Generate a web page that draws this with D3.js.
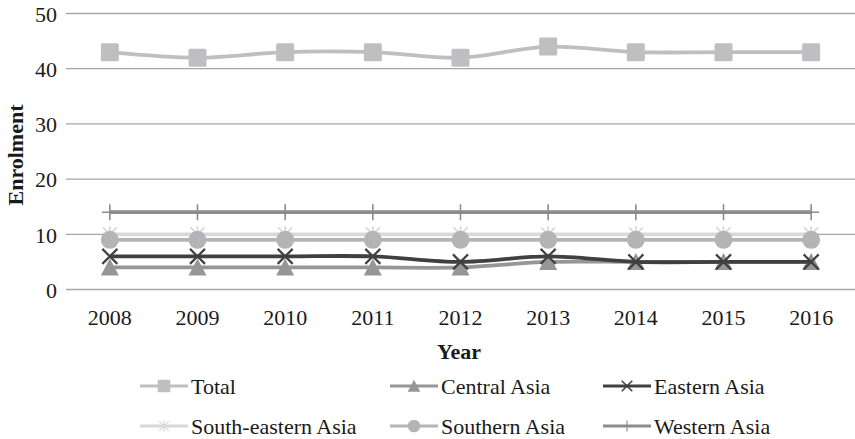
<!DOCTYPE html>
<html>
<head>
<meta charset="utf-8">
<script src="https://cdn.jsdelivr.net/npm/d3@7"></script>
<style>
  html, body { margin: 0; padding: 0; background: #fff; }
  svg { display: block; }
  svg text { font-family: "Liberation Serif", "Times New Roman", serif; fill: #1a1a1a; }
</style>
</head>
<body>
<svg id="chart" width="855" height="439"></svg>
<script>
// Enrolment by region, 2008–2016
const years = ["2008", "2009", "2010", "2011", "2012", "2013", "2014", "2015", "2016"];
const total          = [43, 42, 43, 43, 42, 44, 43, 43, 43];
const centralAsia    = [4, 4, 4, 4, 4, 5, 5, 5, 5];
const easternAsia    = [6, 6, 6, 6, 5, 6, 5, 5, 5];
const southEastAsia  = [10, 10, 10, 10, 10, 10, 10, 10, 10];
const southernAsia   = [9, 9, 9, 9, 9, 9, 9, 9, 9];
const westernAsia    = [14, 14, 14, 14, 14, 14, 14, 14, 14];
const yTicks = [0, 10, 20, 30, 40, 50];

const series = [
  { name: "Total",              values: total,         color: "#bfbfc2", marker: "square"   },
  { name: "Central Asia",       values: centralAsia,   color: "#969696", marker: "triangle" },
  { name: "Eastern Asia",       values: easternAsia,   color: "#404040", marker: "x"        },
  { name: "South-eastern Asia", values: southEastAsia, color: "#d9d9d9", marker: "star"     },
  { name: "Southern Asia",      values: southernAsia,  color: "#b4b4b8", marker: "circle"   },
  { name: "Western Asia",       values: westernAsia,   color: "#8c8c8c", marker: "plus"     }
];

const svg = d3.select("#chart");
const plot = { left: 66, right: 855, top: 13.5, bottom: 289.5 };
const FONT = 22;

const x = d3.scaleBand().domain(years).range([plot.left, plot.right]);
const y = d3.scaleLinear().domain([0, 50]).range([plot.bottom, plot.top]);
const cx = d => x(d) + x.bandwidth() / 2;

// horizontal gridlines
svg.append("g")
  .selectAll("line")
  .data(yTicks)
  .join("line")
  .attr("x1", plot.left).attr("x2", plot.right)
  .attr("y1", d => y(d)).attr("y2", d => y(d))
  .attr("stroke", "#a6a6a6").attr("stroke-width", 1.3);

// y axis labels
const yAxis = d3.axisLeft(y).tickValues(yTicks).tickSize(0).tickPadding(0);
const gy = svg.append("g").attr("transform", "translate(57,0)").call(yAxis);
gy.select(".domain").remove();
gy.selectAll("text")
  .attr("font-size", FONT)
  .attr("font-family", "Liberation Serif")
  .attr("dy", "0.35em");

// x axis labels
const xAxis = d3.axisBottom(x).tickSize(0).tickPadding(0);
const gx = svg.append("g").attr("transform", `translate(0,${plot.bottom})`).call(xAxis);
gx.select(".domain").remove();
gx.selectAll("text")
  .attr("font-size", FONT)
  .attr("font-family", "Liberation Serif")
  .attr("y", 35).attr("dy", 0);

// axis titles
svg.append("text")
  .attr("x", 459).attr("y", 359)
  .attr("text-anchor", "middle")
  .attr("font-family", "Liberation Serif")
  .attr("font-size", FONT).attr("font-weight", "bold")
  .text("Year");
svg.append("text")
  .attr("transform", "translate(23,155) rotate(-90)")
  .attr("text-anchor", "middle")
  .attr("font-family", "Liberation Serif")
  .attr("font-size", FONT).attr("font-weight", "bold")
  .text("Enrolment");

// marker drawing, k scales the symbol size
function drawMarker(g, type, color, px, py, k) {
  const s = 9 * k;
  switch (type) {
    case "square":
      g.append("rect").attr("x", px - s).attr("y", py - s).attr("width", 2 * s).attr("height", 2 * s)
        .attr("rx", 1.5 * k).attr("fill", color);
      break;
    case "triangle":
      g.append("path").attr("d", `M${px},${py - s} L${px + s},${py + s * 0.9} L${px - s},${py + s * 0.9} Z`)
        .attr("fill", color);
      break;
    case "x": {
      const a = 7.5 * k;
      g.append("path").attr("d", `M${px - a},${py - a} L${px + a},${py + a} M${px - a},${py + a} L${px + a},${py - a}`)
        .attr("stroke", color).attr("stroke-width", 2.2 * k).attr("fill", "none");
      break;
    }
    case "star": {
      const a = 7 * k;
      g.append("path").attr("d",
        `M${px - a},${py - a} L${px + a},${py + a} M${px - a},${py + a} L${px + a},${py - a} M${px},${py - 8 * k} L${px},${py + 8 * k}`)
        .attr("stroke", color).attr("stroke-width", 1.8 * k).attr("fill", "none");
      break;
    }
    case "circle":
      g.append("circle").attr("cx", px).attr("cy", py).attr("r", s).attr("fill", color);
      break;
    case "plus": {
      const a = 8 * k;
      g.append("path").attr("d", `M${px},${py - a} L${px},${py + a} M${px - a},${py} L${px + a},${py}`)
        .attr("stroke", color).attr("stroke-width", 1.6 * k).attr("fill", "none");
      break;
    }
  }
}

const line = d3.line()
  .x((d, i) => cx(years[i]))
  .y(d => y(d))
  .curve(d3.curveCatmullRom.alpha(0.5));

// series lines and markers
series.forEach(s => {
  const g = svg.append("g");
  g.append("path")
    .attr("d", line(s.values))
    .attr("fill", "none")
    .attr("stroke", s.color)
    .attr("stroke-width", 3.8)
    .attr("stroke-linejoin", "round");
  s.values.forEach((v, i) => drawMarker(g, s.marker, s.color, cx(years[i]), y(v), 1));
});

// legend
const legendCols = [140, 390, 603];
const legendRows = [386, 426];
series.forEach((s, i) => {
  const lx = legendCols[i % 3];
  const ly = legendRows[Math.floor(i / 3)];
  const g = svg.append("g");
  g.append("line").attr("x1", lx).attr("x2", lx + 48).attr("y1", ly).attr("y2", ly)
    .attr("stroke", s.color).attr("stroke-width", 3.2);
  drawMarker(g, s.marker, s.color, lx + 24, ly, 0.7);
  g.append("text").attr("x", lx + 51).attr("y", ly + 7.5)
    .attr("font-family", "Liberation Serif")
    .attr("font-size", FONT)
    .text(s.name);
});
</script>
</body>
</html>
